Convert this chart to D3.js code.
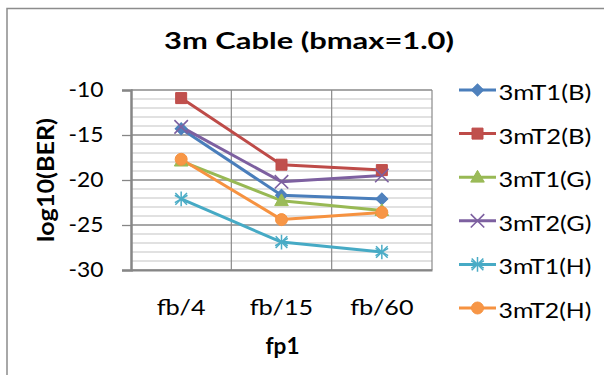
<!DOCTYPE html>
<html>
<head>
<meta charset="utf-8">
<script src="https://cdn.jsdelivr.net/npm/d3@7"></script>
<style>
  body { margin: 0; background: #fff; }
  text { font-family: Lato, "Open Sans", sans-serif; fill: #000; }
</style>
</head>
<body>
<svg id="chart" width="604" height="375"></svg>
<script>
// ---- data ----
const categories = ["fb/4", "fb/15", "fb/60"];
const seriesNames = ["3mT1(B)", "3mT2(B)", "3mT1(G)", "3mT2(G)", "3mT1(H)", "3mT2(H)"];
const t1B = [-14.3, -21.7, -22.1];
const t2B = [-10.9, -18.3, -18.9];
const t1G = [-17.9, -22.3, -23.4];
const t2G = [-14.1, -20.2, -19.5];
const t1H = [-22.1, -26.9, -28.0];
const t2H = [-17.7, -24.4, -23.6];
const yTicks = [-30, -25, -20, -15, -10];
const chartTitle = "3m Cable (bmax=1.0)";
const xAxisTitle = "fp1";
const yAxisTitle = "log10(BER)";

// ---- styling ----
const lineColors = ["#4A7EBB", "#BE4B48", "#98B954", "#7D60A0", "#46AAC5", "#F69240"];
const fillColors = ["#4F81BD", "#C0504D", "#9BBB59", "#8064A2", "#4BACC6", "#F79646"];
const markerKinds = ["diamond", "square", "triangle", "x", "asterisk", "circle"];
const seriesValues = [t1B, t2B, t1G, t2G, t1H, t2H];
const series = seriesNames.map((name, i) => ({
  name, values: seriesValues[i], line: lineColors[i], fill: fillColors[i], kind: markerKinds[i]
}));

const svg = d3.select("#chart");
const plot = { left: 131, right: 432, top: 90, bottom: 270 };

const x = d3.scaleBand().domain(categories).range([plot.left, plot.right]);
const xc = c => x(c) + x.bandwidth() / 2;
const y = d3.scaleLinear().domain([-30, -10]).range([plot.bottom, plot.top]);

// stretch text horizontally about its anchor
function place(sel, tx, ty, sx, rot) {
  sel.attr("x", 0).attr("y", 0)
     .attr("transform", `translate(${tx},${ty})${rot ? ` rotate(${rot})` : ""} scale(${sx},1)`);
  return sel;
}
function fitTo(sel, width) {
  const w = sel.node().getComputedTextLength();
  return width / w;
}

// outer chart frame
svg.append("rect")
  .attr("x", 7).attr("y", 8.5).attr("width", 700).attr("height", 500)
  .attr("fill", "none").attr("stroke", "#8c8c8c").attr("stroke-width", 1.5);

// minor gridlines
const minor = d3.range(-30, -9, 1).filter(v => v % 5 !== 0);
svg.append("g").selectAll("line").data(minor).join("line")
  .attr("x1", plot.left).attr("x2", plot.right)
  .attr("y1", d => y(d)).attr("y2", d => y(d))
  .attr("stroke", "#c4c4c4").attr("stroke-width", 1.2);

// major gridlines
svg.append("g").selectAll("line").data(yTicks).join("line")
  .attr("x1", plot.left).attr("x2", plot.right)
  .attr("y1", d => y(d)).attr("y2", d => y(d))
  .attr("stroke", "#8a8a8a").attr("stroke-width", 1.3);

// vertical category gridlines
svg.append("g").selectAll("line").data(categories.slice(1)).join("line")
  .attr("x1", d => x(d)).attr("x2", d => x(d))
  .attr("y1", plot.top).attr("y2", plot.bottom)
  .attr("stroke", "#8a8a8a").attr("stroke-width", 1.2);

// right plot edge
svg.append("line")
  .attr("x1", plot.right).attr("x2", plot.right)
  .attr("y1", plot.top).attr("y2", plot.bottom)
  .attr("stroke", "#8a8a8a").attr("stroke-width", 1.2);

// y axis
const yAxis = d3.axisLeft(y).tickValues(yTicks).tickSize(9).tickFormat("");
const yg = svg.append("g").attr("transform", `translate(${plot.left},0)`).call(yAxis);
yg.select(".domain").attr("stroke", "#868686").attr("stroke-width", 2.5);
yg.selectAll(".tick line").attr("stroke", "#868686").attr("stroke-width", 1.3);

// x axis line
const xAxis = d3.axisBottom(x).tickSize(0).tickFormat("");
const xg = svg.append("g").attr("transform", `translate(0,${plot.bottom})`).call(xAxis);
xg.select(".domain").attr("stroke", "#868686").attr("stroke-width", 2);

// y tick labels
yTicks.forEach(v => {
  const t = svg.append("text").attr("text-anchor", "end")
    .style("font-size", "21px").text(d3.format("d")(v).replace("−", "-"));
  place(t, 103.5, y(v) + 7, fitTo(t, 35));
});

// x tick labels
categories.forEach(c => {
  const t = svg.append("text").attr("text-anchor", "middle")
    .style("font-size", "21.5px").text(c);
  place(t, xc(c), 315, 1.17);
});

// title
const tt = svg.append("text").attr("text-anchor", "middle")
  .style("font-size", "23px").style("font-weight", "bold").text(chartTitle);
place(tt, 309, 49, fitTo(tt, 290));

// axis titles
const xt = svg.append("text").attr("text-anchor", "middle")
  .style("font-size", "23px").style("font-weight", "bold").text(xAxisTitle);
place(xt, 282.5, 353.5, fitTo(xt, 34));

const yt = svg.append("text").attr("text-anchor", "middle")
  .style("font-size", "23px").style("font-weight", "bold").text(yAxisTitle);
place(yt, 54, 180, fitTo(yt, 124), -90);

// markers
function drawMarker(g, kind, cx, cy, s) {
  const m = g.append("g").attr("transform", `translate(${cx},${cy})`);
  if (kind === "diamond") {
    m.append("path").attr("d", d3.symbol(d3.symbolSquare, 72)())
      .attr("transform", "rotate(45)")
      .attr("fill", s.fill).attr("stroke", s.line).attr("stroke-width", 1);
  } else if (kind === "square") {
    m.append("path").attr("d", d3.symbol(d3.symbolSquare, 121)())
      .attr("fill", s.fill).attr("stroke", s.line).attr("stroke-width", 1);
  } else if (kind === "triangle") {
    m.append("path").attr("d", d3.symbol(d3.symbolTriangle, 80)())
      .attr("transform", "translate(0,1)")
      .attr("fill", s.fill).attr("stroke", s.line).attr("stroke-width", 1);
  } else if (kind === "x") {
    m.append("path").attr("d", d3.symbol(d3.symbolX, 120)())
      .attr("fill", "none").attr("stroke", s.line).attr("stroke-width", 1.6);
  } else if (kind === "asterisk") {
    m.append("path").attr("d", d3.symbol(d3.symbolAsterisk, 150)())
      .attr("fill", "none").attr("stroke", s.fill).attr("stroke-width", 1.5);
    m.append("path").attr("d", d3.symbol(d3.symbolX, 90)())
      .attr("fill", "none").attr("stroke", s.fill).attr("stroke-width", 1.5);
  } else {
    m.append("path").attr("d", d3.symbol(d3.symbolCircle, 113)())
      .attr("fill", s.fill).attr("stroke", s.line).attr("stroke-width", 1);
  }
}

// series lines
const line = d3.line().x((d, i) => xc(categories[i])).y(d => y(d));
const sg = svg.append("g");
series.forEach(s => {
  sg.append("path").datum(s.values).attr("d", line)
    .attr("fill", "none").attr("stroke", s.line).attr("stroke-width", 3)
    .attr("stroke-linejoin", "round");
});
// series markers
const mg = svg.append("g");
series.forEach(s => {
  s.values.forEach((v, i) => drawMarker(mg, s.kind, xc(categories[i]), y(v), s));
});

// legend
const lg = svg.append("g");
series.forEach((s, i) => {
  const cy = 90 + i * 43.6;
  lg.append("line").attr("x1", 459).attr("x2", 496).attr("y1", cy).attr("y2", cy)
    .attr("stroke", s.line).attr("stroke-width", 3);
  drawMarker(lg, s.kind, 477.5, cy, s);
  const t = lg.append("text").attr("text-anchor", "start")
    .style("font-size", "22px").text(s.name);
  place(t, 498.5, cy + 10, fitTo(t, 93));
});
</script>
</body>
</html>
